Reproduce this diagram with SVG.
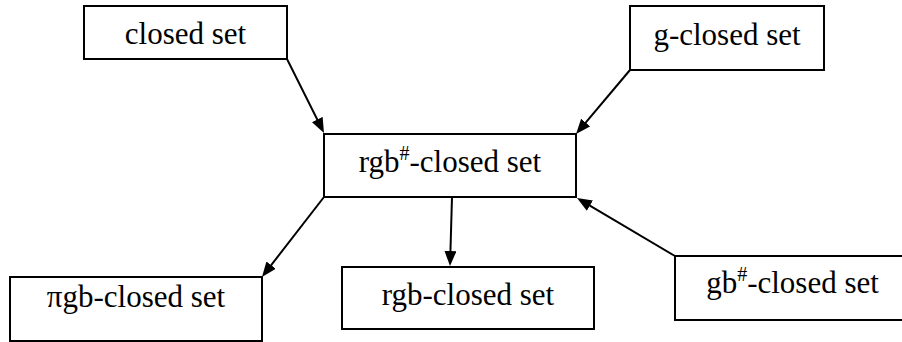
<svg xmlns="http://www.w3.org/2000/svg" width="902" height="342" viewBox="0 0 902 342">
<style>
.box{fill:#fff;stroke:#000;stroke-width:2}
.lbl{font-family:'Liberation Serif','Times New Roman',serif;font-size:31px;fill:#000;text-anchor:middle}
.sup{font-size:20px}
.edge{stroke:#000;stroke-width:2;fill:none;marker-end:url(#ah)}
</style>
<defs>
<marker id="ah" markerUnits="userSpaceOnUse" markerWidth="15" markerHeight="12" refX="5" refY="6" orient="auto">
<path d="M0,0 L15,6 L0,12 z" fill="#000"/>
</marker>
</defs>
<rect width="902" height="342" fill="#fff"/>
<g id="connectors">
<line class="edge" x1="287" y1="59" x2="319.5" y2="124"/>
<line class="edge" x1="630" y1="70" x2="582.5" y2="126.4"/>
<line class="edge" x1="324" y1="197" x2="268.1" y2="269.1"/>
<line class="edge" x1="452" y1="197" x2="450.3" y2="256"/>
<line class="edge" x1="675" y1="256" x2="585.6" y2="203.1"/>
</g>
<g id="closed">
<rect class="box" x="84" y="6" width="203" height="53"/>
<text class="lbl" x="185.5" y="44">closed set</text>
</g>
<g id="g-closed">
<rect class="box" x="630" y="6" width="194" height="64"/>
<text class="lbl" x="727" y="45">g-closed set</text>
</g>
<g id="rgb-sharp-closed">
<rect class="box" x="324" y="134" width="252" height="63"/>
<text class="lbl" x="450" y="172">rgb<tspan class="sup" dy="-12">#</tspan><tspan dy="12">-closed set</tspan></text>
</g>
<g id="pi-gb-closed">
<rect class="box" x="10" y="277" width="252" height="64"/>
<text class="lbl" x="136" y="307">πgb-closed set</text>
</g>
<g id="rgb-closed">
<rect class="box" x="342" y="267" width="252" height="62"/>
<text class="lbl" x="468" y="305">rgb-closed set</text>
</g>
<g id="gb-sharp-closed">
<rect class="box" x="675" y="256" width="240" height="64"/>
<text class="lbl" x="792.5" y="293">gb<tspan class="sup" dy="-12">#</tspan><tspan dy="12">-closed set</tspan></text>
</g>
</svg>
